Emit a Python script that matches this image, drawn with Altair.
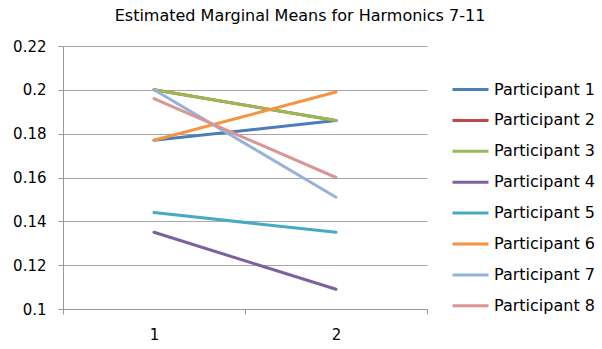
import altair as alt
import pandas as pd

participants = [f"Participant {i}" for i in range(1, 9)]
conditions = ["1", "2"]
means_1 = [0.177, 0.200, 0.200, 0.135, 0.144, 0.177, 0.200, 0.196]
means_2 = [0.186, 0.186, 0.186, 0.109, 0.135, 0.199, 0.151, 0.160]
colors = ["#4A7EBB", "#BE4B48", "#98B954", "#7D60A0", "#46AAC5",
          "#F69240", "#95B3D7", "#D99694"]
y_ticks = [0.1, 0.12, 0.14, 0.16, 0.18, 0.2, 0.22]

rows = []
for p, a, b in zip(participants, means_1, means_2):
    rows.append({"participant": p, "condition": conditions[0], "mean": a})
    rows.append({"participant": p, "condition": conditions[1], "mean": b})
df = pd.DataFrame(rows)

font = "DejaVu Sans"

chart = alt.Chart(df).mark_line(strokeWidth=3, strokeCap="round").encode(
    x=alt.X("condition:N", sort=conditions, title=None,
            scale=alt.Scale(paddingInner=0, paddingOuter=0),
            axis=alt.Axis(labelAngle=0, tickBand="extent", tickSize=5,
                          labelPadding=13, grid=False, domainColor="#999999",
                          tickColor="#999999")),
    y=alt.Y("mean:Q", title=None,
            scale=alt.Scale(domain=[0.1, 0.22], nice=False, zero=False),
            axis=alt.Axis(values=y_ticks, format=".2~f", tickSize=5,
                          labelPadding=12, gridColor="#a6a6a6",
                          domainColor="#999999", tickColor="#999999")),
    color=alt.Color("participant:N", sort=participants,
                    scale=alt.Scale(domain=participants, range=colors),
                    legend=alt.Legend(title=None, orient="none",
                                      legendX=388, legendY=24,
                                      symbolType="stroke",
                                      symbolStrokeWidth=3,
                                      symbolSize=1296,
                                      labelFontSize=16, labelFont=font,
                                      labelColor="black",
                                      labelOffset=4, rowPadding=2.9)),
    detail="participant:N",
).properties(
    width=364,
    height=263,
    background="white",
    title=alt.TitleParams("Estimated Marginal Means for Harmonics 7-11",
                          font=font, fontSize=16, fontWeight="normal",
                          color="black", dx=55, offset=15),
    autosize=alt.AutoSizeParams(type="none"),
    padding={"left": 63, "top": 46, "right": 175, "bottom": 40},
).configure_view(stroke=None).configure_axis(
    labelFont=font, labelFontSize=15, labelColor="black"
)

chart.save("out.html", embed_options={"renderer": "svg", "actions": False})
